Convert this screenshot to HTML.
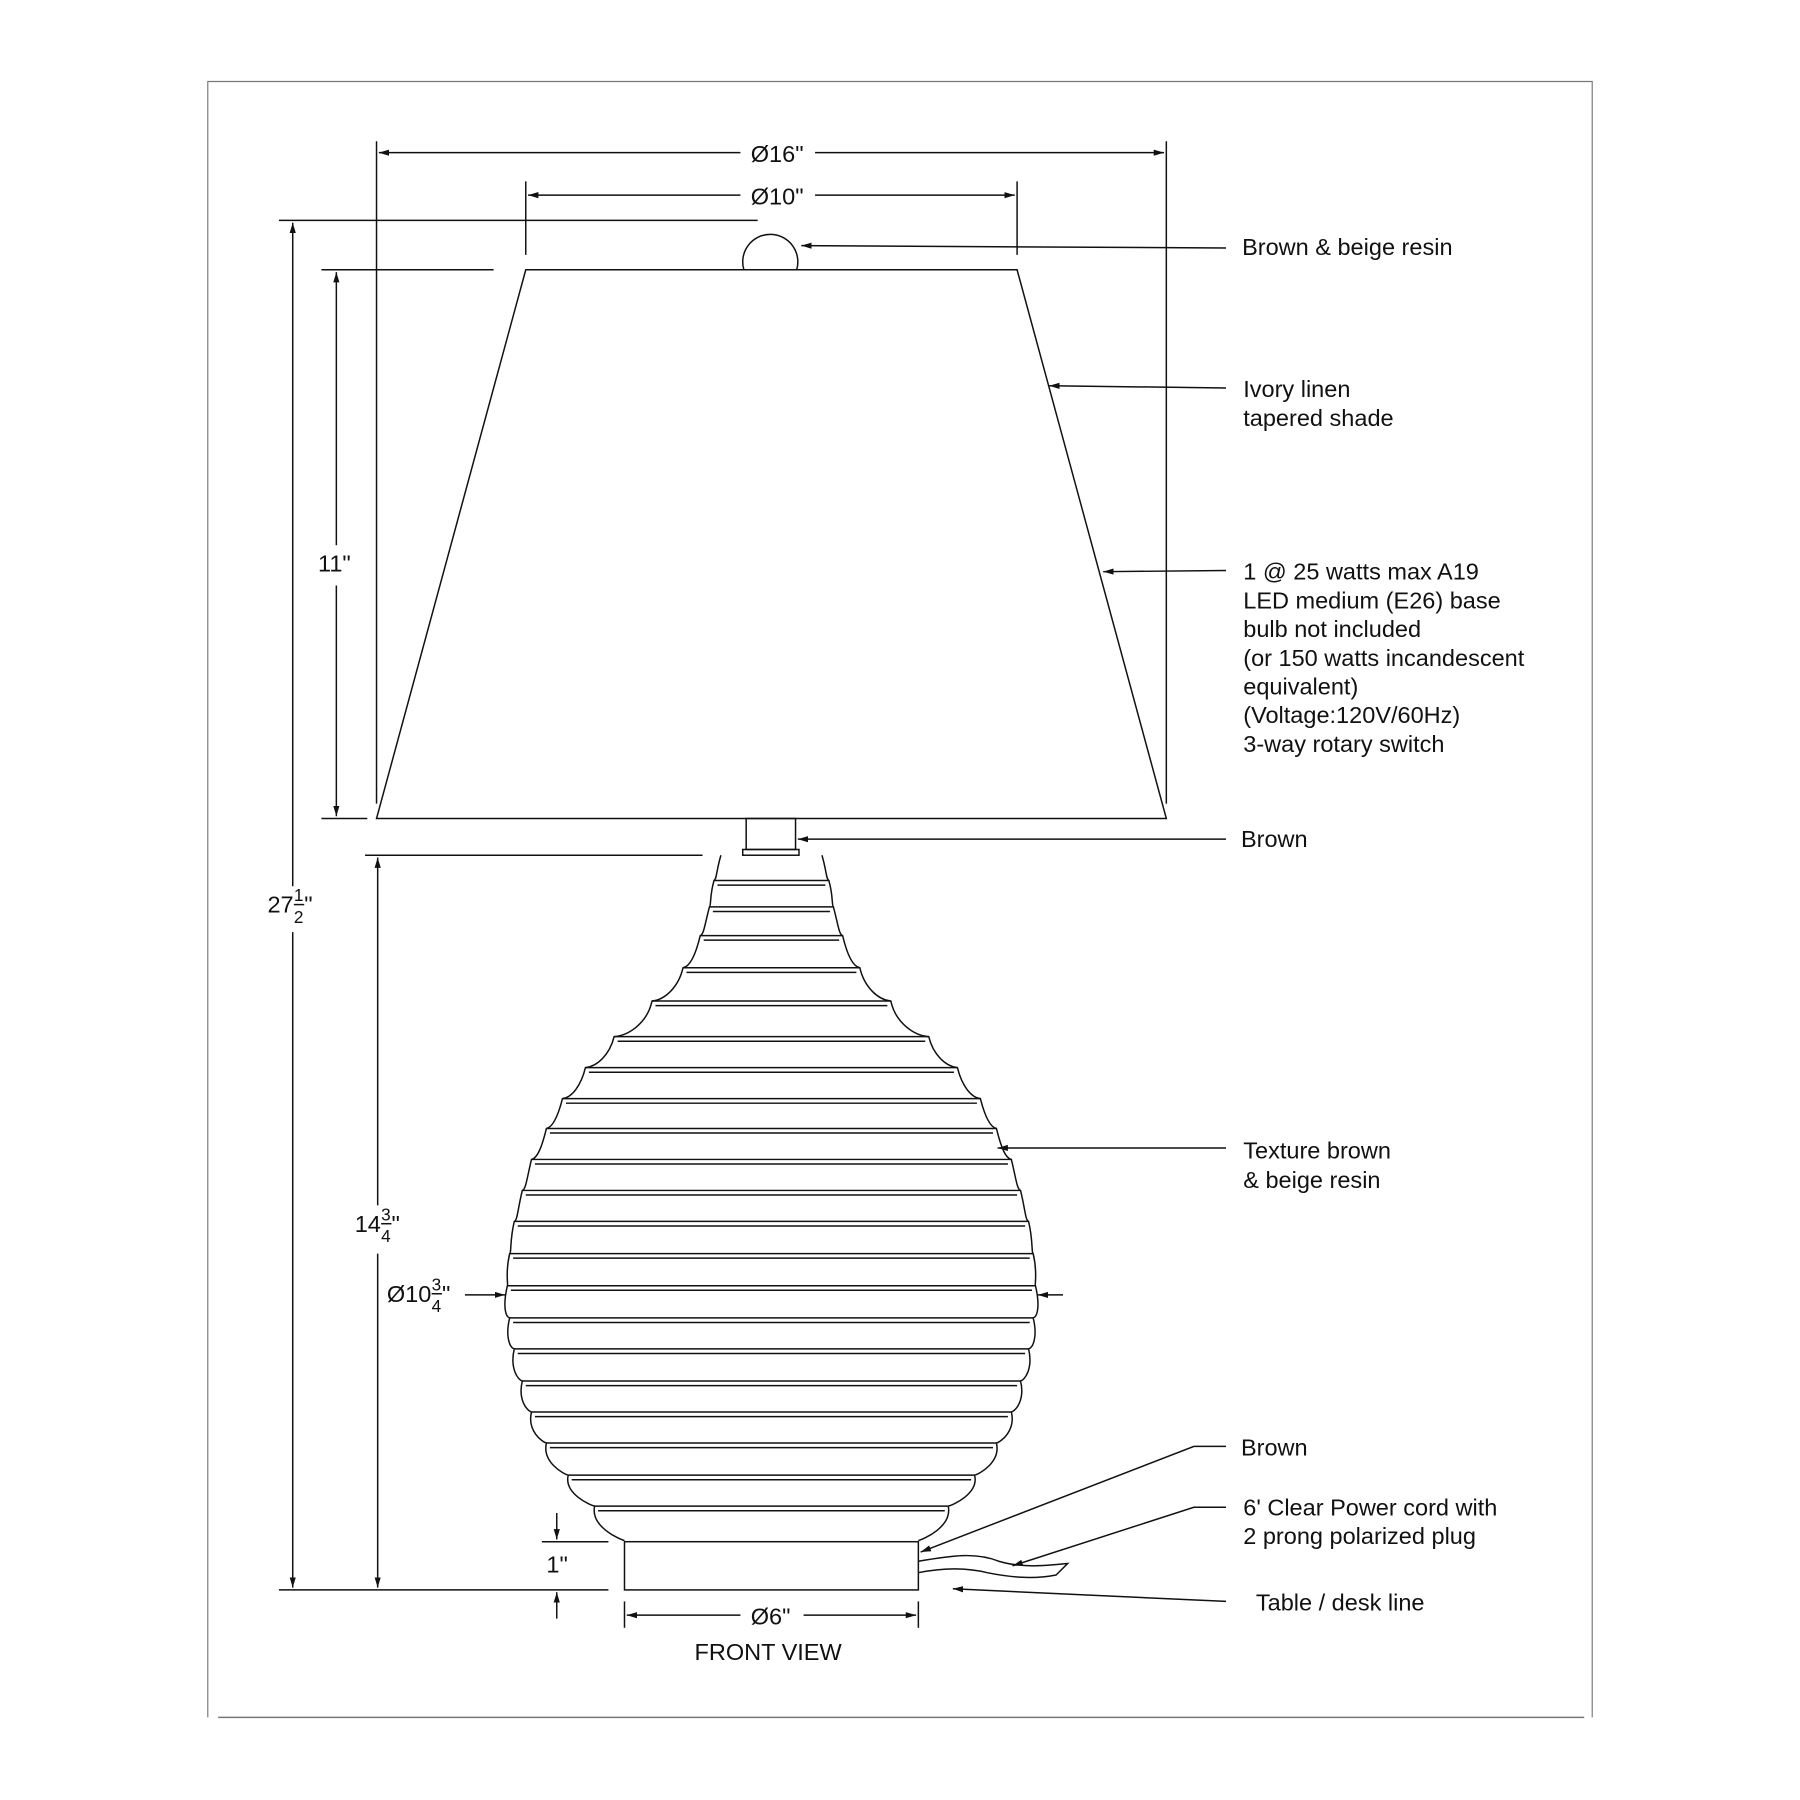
<!DOCTYPE html>
<html><head><meta charset="utf-8"><style>
html,body{margin:0;padding:0;background:#fff}
svg{display:block}
text{font-family:"Liberation Sans",Arial,sans-serif;fill:#111}
</style></head><body>
<svg id="s" width="1800" height="1800" viewBox="0 0 1568 1568" xmlns="http://www.w3.org/2000/svg">
<defs>
<marker id="a" viewBox="0 0 10 10" refX="10" refY="5" markerWidth="9" markerHeight="9" orient="auto-start-reverse" markerUnits="userSpaceOnUse"><path d="M0,2 L10,5 L0,8 Z" fill="#111"/></marker>
</defs>
<g fill="none" stroke="#111" stroke-width="1.3">
<path d="M181,1496 L181,71 L1387,71 L1387,1496" stroke="#777" stroke-width="1"/>
<line x1="190" y1="1496" x2="1380" y2="1496" stroke="#777"/>
<path d="M458,235 L886,235 L1016,713 L328,713 Z"/>
<path d="M648,235 A24,24 0 1 1 694,235"/>
<rect x="650" y="713" width="43" height="27"/>
<rect x="647" y="740" width="49" height="5"/>
<rect x="544" y="1343" width="256" height="42"/>
<path id="vase" d=""/>
<g id="ribs"></g>
<line x1="328" y1="123" x2="328" y2="700"/><line x1="1016" y1="123" x2="1016" y2="700"/>
<line x1="330" y1="133" x2="645" y2="133" marker-start="url(#a)"/><line x1="710" y1="133" x2="1014" y2="133" marker-end="url(#a)"/>
<line x1="458" y1="158" x2="458" y2="222"/><line x1="886" y1="158" x2="886" y2="222"/>
<line x1="460" y1="170" x2="645" y2="170" marker-start="url(#a)"/><line x1="710" y1="170" x2="884" y2="170" marker-end="url(#a)"/>
<line x1="243" y1="192" x2="660" y2="192"/>
<line x1="255" y1="194" x2="255" y2="772" marker-start="url(#a)"/><line x1="255" y1="812" x2="255" y2="1383" marker-end="url(#a)"/>
<line x1="280" y1="235" x2="430" y2="235"/><line x1="280" y1="713" x2="320" y2="713"/>
<line x1="293" y1="237" x2="293" y2="475" marker-start="url(#a)"/><line x1="293" y1="510" x2="293" y2="711" marker-end="url(#a)"/>
<line x1="318" y1="745" x2="612" y2="745"/>
<line x1="329" y1="747" x2="329" y2="1050" marker-start="url(#a)"/><line x1="329" y1="1092" x2="329" y2="1383" marker-end="url(#a)"/>
<line x1="243" y1="1385" x2="530" y2="1385"/>
<line x1="472" y1="1343" x2="530" y2="1343"/>
<line x1="485" y1="1318" x2="485" y2="1341" marker-end="url(#a)"/><line x1="485" y1="1410" x2="485" y2="1387" marker-end="url(#a)"/>
<line x1="544" y1="1395" x2="544" y2="1418"/><line x1="800" y1="1395" x2="800" y2="1418"/>
<line x1="546" y1="1407" x2="645" y2="1407" marker-start="url(#a)"/><line x1="700" y1="1407" x2="798" y2="1407" marker-end="url(#a)"/>
<line x1="405" y1="1128" x2="440" y2="1128" marker-end="url(#a)"/><line x1="926" y1="1128" x2="904" y2="1128" marker-end="url(#a)"/>
<line x1="1068" y1="216" x2="698" y2="214" marker-end="url(#a)"/>
<line x1="1068" y1="338" x2="914" y2="336" marker-end="url(#a)"/>
<line x1="1068" y1="497" x2="961" y2="498" marker-end="url(#a)"/>
<line x1="1068" y1="731" x2="695" y2="731" marker-end="url(#a)"/>
<line x1="1068" y1="1000" x2="869" y2="1000" marker-end="url(#a)"/>
<polyline points="1068,1260 1040,1260 802,1352" marker-end="url(#a)"/>
<polyline points="1068,1313 1040,1313 882,1364" marker-end="url(#a)"/>
<line x1="1068" y1="1395" x2="830" y2="1384" marker-end="url(#a)"/>
<path d="M800,1360 C830,1355 850,1352 870,1360 C890,1366 910,1364 930,1362 L920,1372 C900,1376 880,1374 860,1370 C840,1365 820,1366 800,1370"/>
</g>
<g font-size="20.5">
<text x="654" y="141">Ø16"</text>
<text x="654" y="178">Ø10"</text>
<text x="1082" y="222">Brown &amp; beige resin</text>
<text x="1083" y="346">Ivory linen</text>
<text x="1083" y="371">tapered shade</text>
<text x="1083" y="505">1 @ 25 watts max A19</text>
<text x="1083" y="530">LED medium (E26) base</text>
<text x="1083" y="555">bulb not included</text>
<text x="1083" y="580">(or 150 watts incandescent</text>
<text x="1083" y="605">equivalent)</text>
<text x="1083" y="630">(Voltage:120V/60Hz)</text>
<text x="1083" y="655">3-way rotary switch</text>
<text x="1081" y="738">Brown</text>
<text x="1083" y="1009">Texture brown</text>
<text x="1083" y="1035">&amp; beige resin</text>
<text x="1081" y="1268">Brown</text>
<text x="1083" y="1320">6' Clear Power cord with</text>
<text x="1083" y="1345">2 prong polarized plug</text>
<text x="1094" y="1403">Table / desk line</text>
<text x="654" y="1415">Ø6"</text>
<text x="605" y="1446">FRONT VIEW</text>
<text x="277" y="498">11"</text>
<text x="476" y="1370">1"</text>
<text x="233" y="795">27</text><text x="256" y="785" font-size="15">1</text><text x="256" y="804" font-size="15">2</text><text x="265" y="795">"</text>
<line x1="256" y1="788" x2="265" y2="788" stroke="#111" stroke-width="1.3"/>
<text x="309" y="1073">14</text><text x="332" y="1063" font-size="15">3</text><text x="332" y="1082" font-size="15">4</text><text x="341" y="1073">"</text>
<line x1="332" y1="1066" x2="341" y2="1066" stroke="#111" stroke-width="1.3"/>
<text x="337" y="1134">Ø10</text><text x="376" y="1124" font-size="15">3</text><text x="376" y="1143" font-size="15">4</text><text x="385" y="1134">"</text>
<line x1="376" y1="1127" x2="385" y2="1127" stroke="#111" stroke-width="1.3"/>
</g>
</svg>
<script>
(function(){
var c=672;
var ys=[745,767,790,815,843,872,903,930,957,983,1010,1037,1064,1092,1120,1148,1175,1203,1230,1257,1285,1312,1342];
var hw=[44,50,54,62,77,104,137,162,182,196,209,217,224,228,230,228,224,217,209,196,177,154,128];
function side(s){
 function X(h){return (c+s*h).toFixed(1);}
 var d="M"+X(hw[0])+","+ys[0];
 for(var i=0;i<ys.length-1;i++){
  var y=ys[i], y2=ys[i+1], h=y2-y;
  var h0=hw[i], h1=hw[i+1];
  var p1=h0+4, p2=h1-Math.max(0,h1-h0)*0.4+(h1<h0?4:0);
  d+=" C"+X(p1)+","+(y+0.6*h).toFixed(1)+" "+X(p2)+","+(y2-1)+" "+X(h1)+","+y2;
 }
 return d;
}
document.getElementById("vase").setAttribute("d",side(-1)+" "+side(1));
var g=document.getElementById("ribs"),out="";
for(var i=1;i<ys.length-1;i++){
 var w=hw[i];
 out+='<line x1="'+(c-w)+'" y1="'+ys[i]+'" x2="'+(c+w)+'" y2="'+ys[i]+'"/>';
 out+='<line x1="'+(c-w+3)+'" y1="'+(ys[i]+4)+'" x2="'+(c+w-3)+'" y2="'+(ys[i]+4)+'"/>';
}
g.innerHTML=out;
})();
</script>
</body></html>
